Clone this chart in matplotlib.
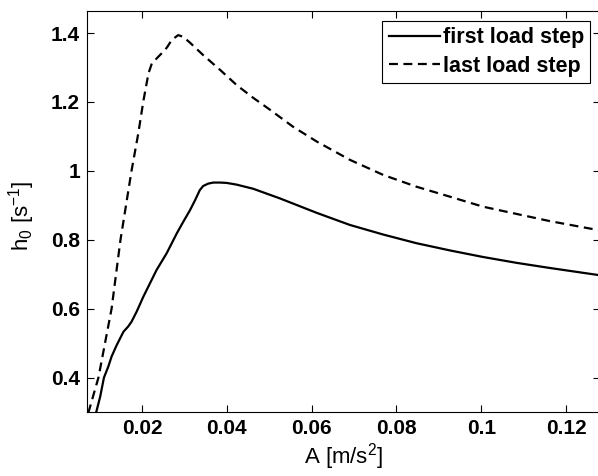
import matplotlib.pyplot as plt

plt.rcParams['font.family'] = ['Liberation Sans', 'DejaVu Sans']
plt.rcParams['mathtext.default'] = 'regular'

# first load step (solid)
a_first = [0.0091, 0.0101, 0.0110, 0.0120, 0.0128, 0.0140, 0.0156, 0.0167, 0.0175,
           0.0187, 0.0203, 0.0234, 0.0258, 0.0282, 0.0297, 0.0313, 0.0325, 0.0336,
           0.0344, 0.0356, 0.0368, 0.0384, 0.0399, 0.0423, 0.0462, 0.0525, 0.0612,
           0.0690, 0.0769, 0.0847, 0.0926, 0.1004, 0.1083, 0.1162, 0.1285]
h_first = [0.296, 0.344, 0.400, 0.431, 0.461, 0.494, 0.533, 0.548, 0.562,
           0.591, 0.635, 0.712, 0.761, 0.819, 0.852, 0.886, 0.915, 0.944,
           0.956, 0.963, 0.966, 0.966, 0.965, 0.960, 0.948, 0.920, 0.878,
           0.843, 0.815, 0.790, 0.769, 0.750, 0.733, 0.718, 0.696]

# last load step (dashed)
a_last = [0.0073, 0.0097, 0.0128, 0.0149, 0.0175, 0.0191, 0.0203, 0.0215,
          0.0223, 0.0242, 0.0254, 0.0259, 0.0270, 0.0285, 0.0297, 0.0313, 0.0344,
          0.0384, 0.0423, 0.0462, 0.0502, 0.0556, 0.0612, 0.0690, 0.0769, 0.0847,
          0.0926, 0.1004, 0.1083, 0.1162, 0.1285]
h_last = [0.297, 0.400, 0.600, 0.800, 1.000, 1.109, 1.203, 1.283,
          1.312, 1.336, 1.351, 1.359, 1.380, 1.394, 1.389, 1.372, 1.336,
          1.293, 1.249, 1.212, 1.177, 1.128, 1.085, 1.032, 0.988, 0.954,
          0.925, 0.896, 0.875, 0.854, 0.826]

xticks = [0.02, 0.04, 0.06, 0.08, 0.1, 0.12]
xticklabels = ['0.02', '0.04', '0.06', '0.08', '0.1', '0.12']
yticks = [0.4, 0.6, 0.8, 1.0, 1.2, 1.4]
yticklabels = ['0.4', '0.6', '0.8', '1', '1.2', '1.4']

fig = plt.figure(figsize=(5.98, 4.76), dpi=100)
ax = fig.add_axes([87 / 598, 64 / 476, 513 / 598, 401 / 476])

ax.plot(a_first, h_first, color='black', lw=1.6, label='first load step')
ax.plot(a_last, h_last, color='black', lw=1.6, linestyle=(0, (4, 2.5)), label='last load step')

ax.set_xlim(0.007, 0.128)
ax.set_ylim(0.3, 1.464)
ax.set_xticks(xticks)
ax.set_xticklabels(xticklabels, fontweight='bold', fontsize=15)
ax.set_yticks(yticks)
ax.set_yticklabels(yticklabels, fontweight='bold', fontsize=15)
ax.tick_params(direction='in', top=True, right=True, length=5, width=0.8, pad=5)

ax.set_xlabel('A [m/s$^2$]', fontsize=16, labelpad=2)
ax.set_ylabel('h$_0$ [s$^{-1}$]', fontsize=16)
ax.yaxis.set_label_coords(-0.098, 0.49)

leg = ax.legend(loc='upper right', prop={'weight': 'bold', 'size': 15.5},
                fancybox=False, edgecolor='black', framealpha=1,
                handlelength=2.4, handletextpad=0.1, borderaxespad=0.45,
                labelspacing=0.35, borderpad=0.3)
leg.get_frame().set_linewidth(0.8)

plt.savefig('out.png', dpi=100)
